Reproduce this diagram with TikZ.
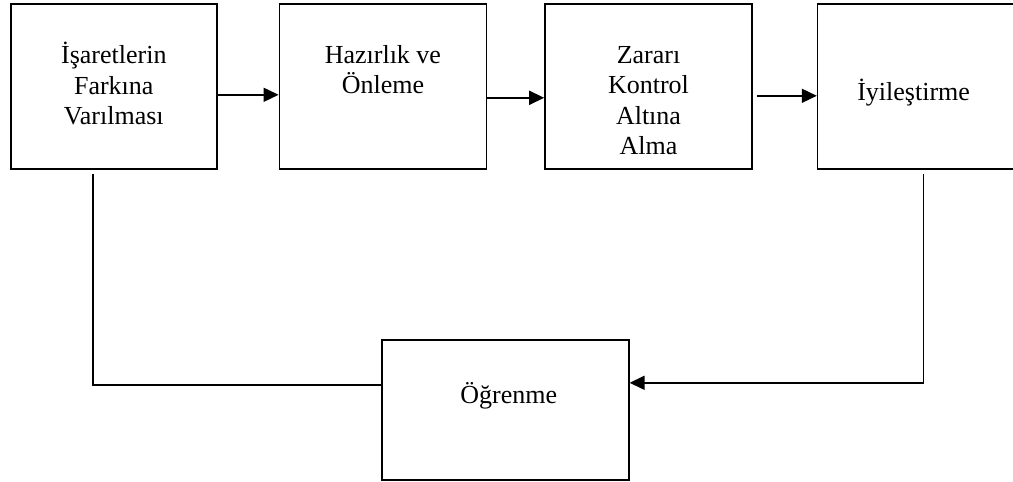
\documentclass[tikz,border=0pt]{standalone}
\usepackage{fontspec}
\setmainfont{Liberation Serif}
\usetikzlibrary{arrows.meta, positioning}

\begin{document}
\begin{tikzpicture}[
    x=1pt, y=1pt,
    stage/.style={rectangle, draw, line width=1.6pt, minimum width=207pt, minimum height=165pt, inner sep=0pt}, % top row boxes
    learnbox/.style={rectangle, draw, line width=1.6pt, minimum width=247pt, minimum height=140pt, inner sep=0pt},
    txt/.style={align=center, anchor=north, inner sep=0pt, font=\fontsize{26}{30.4}\selectfont},
    arrow/.style={-{Triangle[length=15pt, width=14pt]}, line width=1.6pt},
    link/.style={line width=1.6pt},
    node distance=61pt
]
\useasboundingbox (0,0) rectangle (1013,-482);

% Top row
\node[stage, minimum width=206pt, anchor=north west] (b1) at (10,-3) {};
\node[stage, right=61pt of b1] (b2) {};
\node[stage, right=57pt of b2] (b3) {};
\node[stage, right=64pt of b3] (b4) {};

% Bottom box
\node[learnbox, anchor=north west] (learn) at (381,-339) {};

% Texts
\node[txt] (t1) at ([yshift=-39pt]b1.north) {\strut İşaretlerin\\Farkına\\Varılması};
\node[txt] (t2) at ([yshift=-39pt]b2.north) {\strut Hazırlık ve\\Önleme};
\node[txt] (t3) at ([yshift=-39pt]b3.north) {\strut Zararı\\Kontrol\\Altına\\Alma};
\node[txt] (t4) at ([xshift=-7.5pt, yshift=-76pt]b4.north) {\strut İyileştirme};
\node[txt] (t5) at ([xshift=3.5pt, yshift=-43pt]learn.north) {\strut Öğrenme};

% Forward arrows
\draw[arrow] ([yshift=-8.5pt]b1.east) -- ([yshift=-8.5pt]b2.west);
\draw[arrow] ([yshift=-11.5pt]b2.east) -- ([yshift=-11.5pt]b3.west);
\draw[arrow] ([xshift=4pt, yshift=-9.5pt]b3.east) -- ([yshift=-9.5pt]b4.west);

% Feedback to learning
\draw[link] ([xshift=-21pt, yshift=-4pt]b1.south) |- ([yshift=25pt]learn.west);
\draw[arrow] ([xshift=2.5pt, yshift=-4pt]b4.south) |- ([yshift=27pt]learn.east);

\end{tikzpicture}
\end{document}
